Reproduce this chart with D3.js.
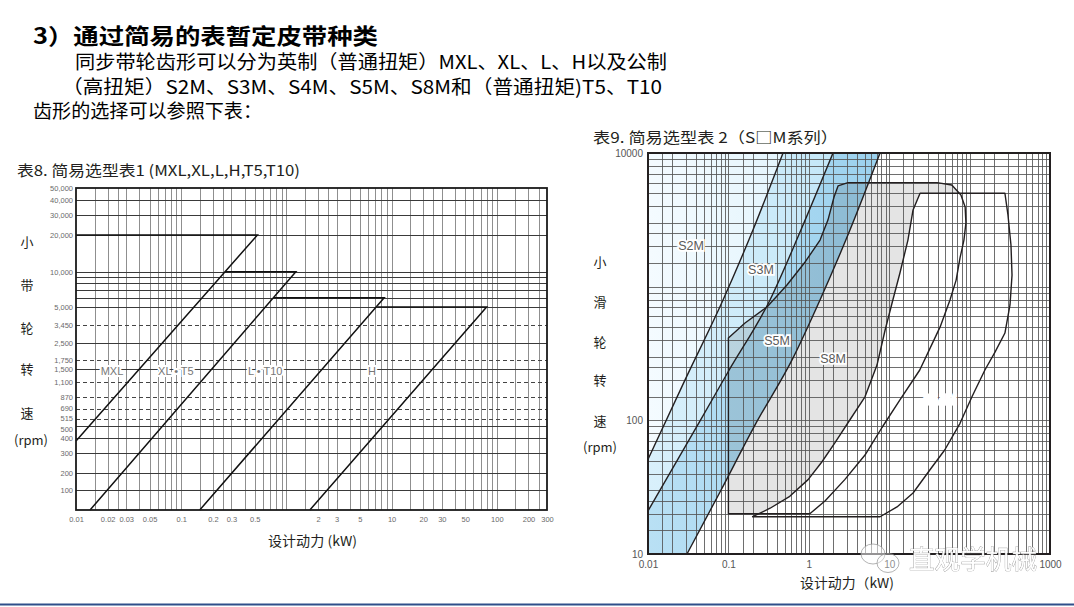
<!DOCTYPE html>
<html><head><meta charset="utf-8">
<script src="https://cdn.jsdelivr.net/npm/d3@7"></script>
<style>
html,body{margin:0;padding:0;background:#fff;}
svg{display:block;}
</style></head><body>
<svg id="c" width="1074" height="607"></svg>
<script>
// ================= DATA =================
const headerText = [
  "3）通过简易的表暂定皮带种类",
  "同步带轮齿形可以分为英制（普通扭矩）MXL、XL、L、H以及公制",
  "（高扭矩）S2M、S3M、S4M、S5M、S8M和（普通扭矩)T5、T10",
  "齿形的选择可以参照下表："
];

// ---- left chart (表8) ----
const leftTitle = "表8. 简易选型表1 (MXL,XL,L,H,T5,T10)";
const leftXTitle = "设计动力 (kW)";
const leftYTitle = ["小", "带", "轮", "转", "速", "(rpm)"];
const leftXTicks = [0.01, 0.02, 0.03, 0.05, 0.1, 0.2, 0.3, 0.5, 2, 3, 5, 10, 20, 30, 50, 100, 200, 300];
const leftXTickLabels = ["0.01","0.02","0.03","0.05","0.1","0.2","0.3","0.5","2","3","5","10","20","30","50","100","200","300"];
const leftYTicks = [100, 200, 300, 400, 500, 515, 690, 870, 1100, 1500, 1750, 2500, 3450, 5000, 10000, 20000, 30000, 40000, 50000];
const leftYTickLabels = ["100","200","300","400","500","515","690","870","1,100","1,500","1,750","2,500","3,450","5,000","10,000","20,000","30,000","40,000","50,000"];
const leftGridSolid = [100, 200, 300, 400, 500, 1500, 2500, 5000, 6000, 7000, 8000, 9000, 10000, 20000, 30000, 40000];
const leftGridDashed = [515, 690, 870, 1100, 1750, 3450];
const leftXGridMult = [1, 1.5, 2, 2.5, 3, 4, 5, 6, 7, 8, 9];
const leftXGridDecades = [0.01, 0.1, 1, 10, 100];
// belt types: horizontal top line + diagonal limit line
const beltNames = ["MXL", "XL • T5", "L • T10", "H"];
const beltTopRpm = [20000, 10000, 6000, 5000];
const beltTopStart = [0.01, 0.26, 0.75, 7.3];
const beltTopEnd = [0.53, 1.23, 8.5, 80];
const beltLowPower = [0.01, 0.0136, 0.15, 1.67];
const beltLowRpm = [380, 50, 50, 50];
const beltLabelPower = [0.022, 0.089, 0.63, 6.5];
const beltLabelRpm = [1430, 1430, 1430, 1430];

// ---- right chart (表9) ----
const rightTitle = "表9. 简易选型表 2（S□M系列）";
const rightXTitle = "设计动力（kW)";
const rightYTitle = ["小", "滑", "轮", "转", "速", "(rpm)"];
const rightXTicks = [0.01, 0.1, 1, 10, 1000];
const rightXTickLabels = ["0.01", "0.1", "1", "10", "1000"];
const rightYTicks = [10, 100, 10000];
const rightYTickLabels = ["10", "100", "10000"];
const rightXGridMult = [1, 1.5, 2, 3, 4, 5, 6, 7, 8, 9];
const rightXGridDecades = [0.01, 0.1, 1, 10, 100];
const rightYGridMult = [1, 1.5, 2, 2.5, 3, 4, 5, 6, 7, 8, 9];
const rightYGridDecades = [10, 100, 1000];
// boundary curves [power kW, rpm]
const curveS2M = [[0.01, 51], [0.0288, 200], [0.0857, 795], [0.202, 2655], [0.478, 10000]];
const curveS3M = [[0.01, 21], [0.0444, 99], [0.0989, 230], [0.329, 795], [0.778, 2565], [2.0, 10000]];
const curveS5M = [[0.0305, 10], [0.0787, 29.1], [0.214, 92], [0.635, 292], [1.378, 795], [3.25, 2655], [7.69, 10000]];
const polyS8M = [[0.1, 20], [0.1, 413], [0.161, 535], [0.302, 705], [0.535, 1030], [0.9, 1530], [1.38, 2230],
  [1.73, 3150], [2.06, 4690], [2.31, 5670], [3.07, 6000], [39.3, 6000], [60, 5760], [78, 4850], [88, 3950],
  [90, 3000], [85, 2230], [76, 1640], [68, 1120], [57, 795], [43, 500], [35, 385], [24, 238], [13.6, 142],
  [8.1, 88], [5.0, 55], [2.8, 36], [1.6, 25], [1.03, 20]];
const polyS14M = [[0.2, 19], [0.33, 22], [0.58, 27], [0.98, 36], [1.46, 49], [2.12, 68], [3.25, 101], [5.0, 150],
  [7.05, 259], [8.9, 474], [11.1, 795], [13.6, 1265], [17.1, 2230], [19.8, 3750], [24.2, 5000], [275, 5000],
  [300, 3440], [327, 2050], [337, 1220], [318, 730], [275, 450], [207, 324], [155, 238], [107, 150], [76, 95],
  [49, 60], [32, 42.5], [19.8, 28.6], [12.5, 22.5], [7.7, 19]];
const seriesNames = ["S2M", "S3M", "S5M", "S8M", "S14M"];
const seriesLabelPower = [0.0343, 0.254, 0.402, 2.0, 42.8];
const seriesLabelRpm = [2015, 1333, 399, 292, 142];

const watermarkText = "直观学机械";

// ================= LAYOUT / STYLE =================
const FONT_CJK = '"Noto Sans CJK SC","Noto Sans",sans-serif';
const FONT_LAT = '"Liberation Sans",Arial,sans-serif';
const svg = d3.select("#c");
const defs = svg.append("defs");

// header
const headerLayout = [
  {x: 33, y: 44, size: 22, weight: 700, len: 345},
  {x: 75, y: 69, size: 19, weight: 400, len: 592},
  {x: 62, y: 93.5, size: 19, weight: 400, len: 600},
  {x: 33, y: 118, size: 19, weight: 400, len: 229}
];
headerText.forEach((t, i) => {
  const L = headerLayout[i];
  svg.append("text").attr("x", L.x).attr("y", L.y).text(t)
    .attr("font-family", FONT_CJK).attr("font-size", L.size).attr("font-weight", L.weight)
    .attr("fill", "#000").attr("textLength", L.len).attr("lengthAdjust", "spacingAndGlyphs");
});

// ---------- LEFT CHART ----------
const LB = {x0: 76, x1: 547, y0: 188, y1: 510};
const leftYStops = [50, 100, 200, 300, 400, 500, 515, 690, 870, 1100, 1500, 1750, 2500, 3450, 5000, 10000, 20000, 30000, 40000, 50000];
const leftYStopPx = [510, 489.7, 473.3, 453.3, 438.3, 425.7, 418.5, 409.3, 397.3, 382.3, 369, 360, 342.7, 325, 307, 271.7, 235, 214.5, 200, 188];
const xL = d3.scaleLog().domain([0.01, 300]).range([LB.x0, LB.x1]);
const yL = d3.scaleLog().domain(leftYStops).range(leftYStopPx);

const gL = svg.append("g");
// vertical grid
const leftVGrid = [];
leftXGridDecades.forEach(d => leftXGridMult.forEach(m => { const v = +(d * m).toPrecision(3); if (v > 0.01 && v < 300) leftVGrid.push(v); }));
gL.selectAll("line.vg").data(leftVGrid).join("line")
  .attr("x1", d => Math.round(xL(d)) + 0.5).attr("x2", d => Math.round(xL(d)) + 0.5)
  .attr("y1", LB.y0).attr("y2", LB.y1).attr("stroke", "#8f8f8f").attr("stroke-width", 1);
gL.selectAll("line.hs").data(leftGridSolid).join("line")
  .attr("x1", LB.x0).attr("x2", LB.x1)
  .attr("y1", d => Math.round(yL(d)) + 0.5).attr("y2", d => Math.round(yL(d)) + 0.5)
  .attr("stroke", "#3a3a3a").attr("stroke-width", 1);
gL.selectAll("line.hd").data(leftGridDashed).join("line")
  .attr("x1", LB.x0).attr("x2", LB.x1)
  .attr("y1", d => Math.round(yL(d)) + 0.5).attr("y2", d => Math.round(yL(d)) + 0.5)
  .attr("stroke", "#444").attr("stroke-width", 1).attr("stroke-dasharray", "4,3");

// labels with white halo
beltNames.forEach((n, i) => {
  gL.append("text").attr("x", xL(beltLabelPower[i])).attr("y", yL(beltLabelRpm[i]) + 4)
    .attr("text-anchor", "middle").text(n)
    .attr("font-family", FONT_LAT).attr("font-size", 11).attr("fill", "#777")
    .attr("stroke", "#fff").attr("stroke-width", 4).attr("paint-order", "stroke");
});

// belt lines
const lineL = d3.line().x(d => xL(d[0])).y(d => yL(d[1]));
beltNames.forEach((n, i) => {
  const pts = [[beltTopStart[i], beltTopRpm[i]], [beltTopEnd[i], beltTopRpm[i]], [beltLowPower[i], beltLowRpm[i]]];
  gL.append("path").attr("d", lineL(pts)).attr("fill", "none").attr("stroke", "#111").attr("stroke-width", 1.5);
});
// frame
gL.append("rect").attr("x", LB.x0).attr("y", LB.y0).attr("width", LB.x1 - LB.x0).attr("height", LB.y1 - LB.y0)
  .attr("fill", "none").attr("stroke", "#1a1a1a").attr("stroke-width", 1.8);

// axes
const axLX = gL.append("g").attr("transform", `translate(0,${LB.y1})`)
  .call(d3.axisBottom(xL).tickValues(leftXTicks).tickFormat((d, i) => leftXTickLabels[i]).tickSize(0).tickPadding(7));
const axLY = gL.append("g").attr("transform", `translate(${LB.x0},0)`)
  .call(d3.axisLeft(yL).tickValues(leftYTicks).tickFormat((d, i) => leftYTickLabels[i]).tickSize(0).tickPadding(3));
[axLX, axLY].forEach(a => {
  a.select(".domain").remove();
  a.selectAll("text").attr("font-family", FONT_LAT).attr("font-size", 7.5).attr("fill", "#6a6a6a");
});
axLY.selectAll("text").attr("dy", d => d === 515 ? "0.3em" : d === 500 ? "0.8em" : d === 690 ? "0.2em" : "0.35em");

gL.append("text").attr("x", 17).attr("y", 176).text(leftTitle)
  .attr("font-family", FONT_CJK).attr("font-size", 15).attr("fill", "#231f20")
  .attr("textLength", 283).attr("lengthAdjust", "spacingAndGlyphs");
gL.append("text").attr("x", 268).attr("y", 546).text(leftXTitle)
  .attr("font-family", FONT_CJK).attr("font-size", 13.5).attr("fill", "#231f20")
  .attr("textLength", 89).attr("lengthAdjust", "spacingAndGlyphs");
const leftYTitleY = [242, 285, 328, 369, 413, 440];
leftYTitle.forEach((t, i) => {
  gL.append("text").attr("x", i === 5 ? 31 : 27).attr("y", leftYTitleY[i] + 5).attr("text-anchor", "middle").text(t)
    .attr("font-family", FONT_CJK).attr("font-size", 13).attr("fill", "#231f20");
});

// ---------- RIGHT CHART ----------
const RB = {x0: 648, x1: 1050, y0: 153, y1: 554};
const xR = d3.scaleLog().domain([0.01, 1000]).range([RB.x0, RB.x1]);
const yR = d3.scaleLog().domain([10, 10000]).range([RB.y1, RB.y0]);
const lineR = d3.line().x(d => xR(d[0])).y(d => yR(d[1]));
const lineRs = d3.line().x(d => xR(d[0])).y(d => yR(d[1])).curve(d3.curveMonotoneX);

defs.append("clipPath").attr("id", "clipR").append("rect")
  .attr("x", RB.x0).attr("y", RB.y0).attr("width", RB.x1 - RB.x0).attr("height", RB.y1 - RB.y0);
function grad(id, c1, c2) {
  const g = defs.append("linearGradient").attr("id", id).attr("gradientUnits", "userSpaceOnUse")
    .attr("x1", RB.x0).attr("x2", 880).attr("y1", 0).attr("y2", 0);
  g.append("stop").attr("offset", 0).attr("stop-color", c1);
  g.append("stop").attr("offset", 1).attr("stop-color", c2);
}
grad("gLight", "#f4fbff", "#d9f0fb");
grad("gMid", "#d9f0fb", "#bfe5f7");
grad("gDark", "#b9e0f4", "#9bd1ee");

const gR = svg.append("g");
const fills = gR.append("g").attr("clip-path", "url(#clipR)");
const [xMin] = xR.domain(); const [yMin, yMax] = yR.domain();
function bandPath(curve, startCorner) {
  let d = lineRs(curve);
  if (startCorner) d = `M${xR(startCorner[0])},${yR(startCorner[1])}L` + d.slice(1);
  d += `L${xR(xMin)},${yR(yMax)}Z`;
  return d;
}
fills.append("path").attr("d", bandPath(curveS5M, [xMin, yMin])).attr("fill", "url(#gDark)");
fills.append("path").attr("d", bandPath(curveS3M, null)).attr("fill", "url(#gMid)");
fills.append("path").attr("d", bandPath(curveS2M, null)).attr("fill", "url(#gLight)");
fills.append("path").attr("d", lineR(polyS8M) + "Z").attr("fill", "#e4e4e4").style("mix-blend-mode", "multiply");
fills.append("path").attr("d", lineR(polyS14M) + "Z").attr("fill", "#fff");

// grid
const gridR = gR.append("g").attr("clip-path", "url(#clipR)");
const rV = [], rH = [];
rightXGridDecades.forEach(d => rightXGridMult.forEach(m => { const v = +(d * m).toPrecision(3); if (v > 0.01) rV.push(v); }));
rightYGridDecades.forEach(d => rightYGridMult.forEach(m => { const v = +(d * m).toPrecision(3); if (v > 10) rH.push(v); }));
gridR.selectAll("line.v").data(rV).join("line")
  .attr("x1", d => Math.round(xR(d)) + 0.5).attr("x2", d => Math.round(xR(d)) + 0.5)
  .attr("y1", RB.y0).attr("y2", RB.y1).attr("stroke", "#555").attr("stroke-width", 1).attr("stroke-opacity", 0.85);
gridR.selectAll("line.h").data(rH).join("line")
  .attr("x1", RB.x0).attr("x2", RB.x1)
  .attr("y1", d => Math.round(yR(d)) + 0.5).attr("y2", d => Math.round(yR(d)) + 0.5)
  .attr("stroke", "#555").attr("stroke-width", 1).attr("stroke-opacity", 0.85);

// boundary strokes
const strokes = gR.append("g").attr("clip-path", "url(#clipR)")
  .attr("fill", "none").attr("stroke", "#231f20").attr("stroke-width", 1.4);
[curveS2M, curveS3M, curveS5M].forEach(c => strokes.append("path").attr("d", lineRs(c)));
strokes.append("path").attr("d", lineR(polyS8M) + "Z").attr("stroke-linejoin", "round");
strokes.append("path").attr("d", lineR(polyS14M) + "Z").attr("stroke-linejoin", "round");

// series labels
seriesNames.forEach((n, i) => {
  const white = n === "S14M";
  gR.append("text").attr("x", xR(seriesLabelPower[i])).attr("y", yR(seriesLabelRpm[i]) + 4.5)
    .attr("text-anchor", "middle").text(n)
    .attr("font-family", FONT_LAT).attr("font-size", 12.5).attr("fill", white ? "#fff" : "#5a5a5a")
    .attr("stroke", "#fff").attr("stroke-width", white ? 3 : 3.5).attr("paint-order", "stroke");
});

// frame
gR.append("rect").attr("x", RB.x0).attr("y", RB.y0).attr("width", RB.x1 - RB.x0).attr("height", RB.y1 - RB.y0)
  .attr("fill", "none").attr("stroke", "#231f20").attr("stroke-width", 2);

// axes
const axRX = gR.append("g").attr("transform", `translate(0,${RB.y1})`)
  .call(d3.axisBottom(xR).tickValues(rightXTicks).tickFormat((d, i) => rightXTickLabels[i]).tickSize(0).tickPadding(7));
const axRY = gR.append("g").attr("transform", `translate(${RB.x0},0)`)
  .call(d3.axisLeft(yR).tickValues(rightYTicks).tickFormat((d, i) => rightYTickLabels[i]).tickSize(0).tickPadding(5));
[axRX, axRY].forEach(a => {
  a.select(".domain").remove();
  a.selectAll("text").attr("font-family", FONT_LAT).attr("font-size", 10).attr("fill", "#555");
});
axRY.selectAll("text").attr("dy", "0.35em");

gR.append("text").attr("x", 593).attr("y", 143).text(rightTitle)
  .attr("font-family", FONT_CJK).attr("font-size", 15).attr("fill", "#231f20")
  .attr("textLength", 245).attr("lengthAdjust", "spacingAndGlyphs");
gR.append("text").attr("x", 800).attr("y", 588).text(rightXTitle)
  .attr("font-family", FONT_CJK).attr("font-size", 13.5).attr("fill", "#231f20")
  .attr("textLength", 94).attr("lengthAdjust", "spacingAndGlyphs");
const rightYTitleY = [262, 302, 342, 380, 421, 447];
rightYTitle.forEach((t, i) => {
  gR.append("text").attr("x", 600).attr("y", rightYTitleY[i] + 5).attr("text-anchor", "middle").text(t)
    .attr("font-family", FONT_CJK).attr("font-size", 13).attr("fill", "#231f20");
});

// watermark
const wm = svg.append("g").attr("opacity", 0.95);
wm.append("ellipse").attr("cx", 873).attr("cy", 554).attr("rx", 12).attr("ry", 10)
  .attr("fill", "#fff").attr("fill-opacity", 0.55).attr("stroke", "#9a9a9a").attr("stroke-width", 0.8);
wm.append("ellipse").attr("cx", 888).attr("cy", 563).attr("rx", 11).attr("ry", 9.5)
  .attr("fill", "#fff").attr("fill-opacity", 0.35).attr("stroke", "#9a9a9a").attr("stroke-width", 0.8);
wm.append("text").attr("x", 909).attr("y", 569).text(watermarkText)
  .attr("font-family", FONT_CJK).attr("font-size", 26).attr("fill", "#fff")
  .attr("stroke", "#8c8c8c").attr("stroke-width", 0.7).attr("paint-order", "stroke")
  .attr("textLength", 128).attr("lengthAdjust", "spacingAndGlyphs");

// bottom rule
svg.append("line").attr("x1", 0).attr("x2", 1074).attr("y1", 604.5).attr("y2", 604.5)
  .attr("stroke", "#2f4f8a").attr("stroke-width", 2);
</script>
</body></html>
